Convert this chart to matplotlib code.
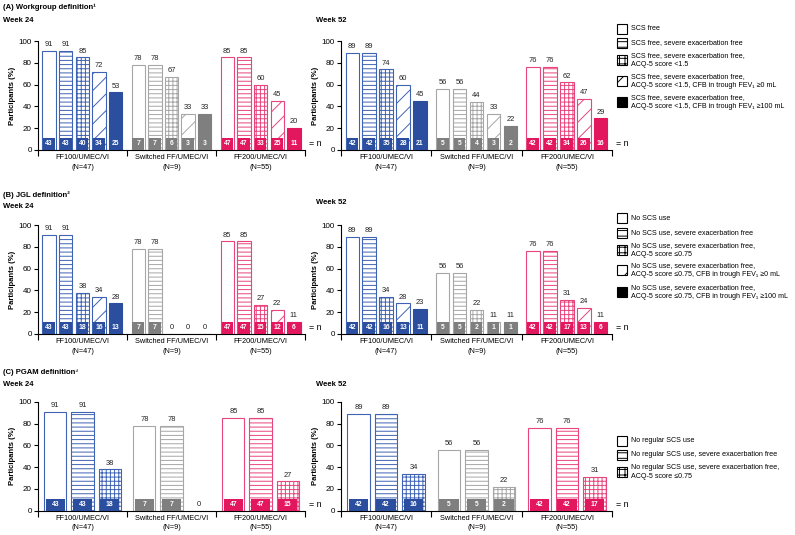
import matplotlib.pyplot as plt
import matplotlib.transforms as mtransforms
from matplotlib.patches import Rectangle

plt.rcParams['font.family'] = ['Liberation Sans', 'DejaVu Sans']
plt.rcParams['hatch.linewidth'] = 0.7

groups = ['FF100/UMEC/VI\n(N=47)', 'Switched FF/UMEC/VI\n(N=9)', 'FF200/UMEC/VI\n(N=55)']
fill_colors = ['#2b4e9e', '#7f7f7f', '#e2175e']
edge_colors = ['#3f63b4', '#a6a6a6', '#e8457d']
hatches5 = ['', '----', '++++', '//', 'solid']
hatches3 = ['', '----', '++++']

# (A) Workgroup definition
wg_w24_pct = [[91, 91, 85, 72, 53], [78, 78, 67, 33, 33], [85, 85, 60, 45, 20]]
wg_w24_n = [[43, 43, 40, 34, 25], [7, 7, 6, 3, 3], [47, 47, 33, 25, 11]]
wg_w52_pct = [[89, 89, 74, 60, 45], [56, 56, 44, 33, 22], [76, 76, 62, 47, 29]]
wg_w52_n = [[42, 42, 35, 28, 21], [5, 5, 4, 3, 2], [42, 42, 34, 26, 16]]
wg_legend = ['SCS free',
             'SCS free, severe exacerbation free',
             'SCS free, severe exacerbation free,\nACQ-5 score <1.5',
             'SCS free, severe exacerbation free,\nACQ-5 score <1.5, CFB in trough FEV\u2081 \u22650 mL',
             'SCS free, severe exacerbation free,\nACQ-5 score <1.5, CFB in trough FEV\u2081 \u2265100 mL']

# (B) JGL definition
jgl_w24_pct = [[91, 91, 38, 34, 28], [78, 78, 0, 0, 0], [85, 85, 27, 22, 11]]
jgl_w24_n = [[43, 43, 18, 16, 13], [7, 7, 0, 0, 0], [47, 47, 15, 12, 6]]
jgl_w52_pct = [[89, 89, 34, 28, 23], [56, 56, 22, 11, 11], [76, 76, 31, 24, 11]]
jgl_w52_n = [[42, 42, 16, 13, 11], [5, 5, 2, 1, 1], [42, 42, 17, 13, 6]]
jgl_legend = ['No SCS use',
              'No SCS use, severe exacerbation free',
              'No SCS use, severe exacerbation free,\nACQ-5 score \u22640.75',
              'No SCS use, severe exacerbation free,\nACQ-5 score \u22640.75, CFB in trough FEV\u2081 \u22650 mL',
              'No SCS use, severe exacerbation free,\nACQ-5 score \u22640.75, CFB in trough FEV\u2081 \u2265100 mL']

# (C) PGAM definition
pgam_w24_pct = [[91, 91, 38], [78, 78, 0], [85, 85, 27]]
pgam_w24_n = [[43, 43, 18], [7, 7, 0], [47, 47, 15]]
pgam_w52_pct = [[89, 89, 34], [56, 56, 22], [76, 76, 31]]
pgam_w52_n = [[42, 42, 16], [5, 5, 2], [42, 42, 17]]
pgam_legend = ['No regular SCS use',
               'No regular SCS use, severe exacerbation free',
               'No regular SCS use, severe exacerbation free,\nACQ-5 score \u22640.75']

W, H = 795, 535
fig = plt.figure(figsize=(W / 100, H / 100), dpi=100)

group_start = [0, 5.35, 10.7]
xmin, xmax = -0.67, 15.37


def draw_panel(ax, pct, n, hatches, pitch, width, offset):
    for g in range(3):
        for j in range(len(pct[g])):
            v = pct[g][j]
            k = n[g][j]
            x = group_start[g] + offset + j * pitch
            h = hatches[j]
            if h == 'solid':
                ax.bar(x, v, width, color=fill_colors[g], edgecolor=fill_colors[g], lw=0.8, zorder=2)
            else:
                ax.bar(x, v, width, facecolor='white', edgecolor=edge_colors[g], hatch=h, lw=0.8, zorder=2)
            ax.text(x, v + 2.5, str(v), ha='center', va='bottom', fontsize=5.4, color='#222222')
            if v > 0:
                ax.bar(x, 11, width * 0.86, color=fill_colors[g], lw=0, zorder=3)
                ax.text(x, 5.6, str(k), ha='center', va='center', color='white',
                        fontsize=4.9, fontweight='bold', zorder=4)
    ax.set_xlim(xmin, xmax)
    ax.set_ylim(0, 100)
    ax.spines['top'].set_visible(False)
    ax.spines['right'].set_visible(False)
    ax.spines['left'].set_linewidth(0.8)
    ax.spines['bottom'].set_linewidth(0.8)
    ax.set_yticks([0, 20, 40, 60, 80, 100])
    ax.tick_params(axis='y', labelsize=5.8, length=3, width=0.8, pad=1.5)
    ax.set_xticks([2, 7.35, 12.7])
    ax.set_xticklabels(groups, fontsize=5.3, linespacing=1.5)
    ax.tick_params(axis='x', which='major', length=0, pad=3)
    ax.set_xticks([xmin, 4.67, 10.02, xmax], minor=True)
    ax.tick_params(axis='x', which='minor', length=4, width=0.8)
    ax.set_ylabel('Participants (%)', fontsize=5.5, fontweight='bold', labelpad=2)
    trans = mtransforms.blended_transform_factory(ax.transAxes, ax.transData)
    ax.text(1.015, 5.6, '= n', transform=trans, va='center', ha='left', fontsize=6.4)


def draw_legend(labels, hatches, centers):
    for lab, h, cy in zip(labels, hatches, centers):
        x0 = 617 / W
        y0 = 1 - (cy + 5) / H
        if h == 'solid':
            r = Rectangle((x0, y0), 10 / W, 10 / H, transform=fig.transFigure,
                          facecolor='black', edgecolor='black', lw=0.8)
        else:
            r = Rectangle((x0, y0), 10 / W, 10 / H, transform=fig.transFigure,
                          facecolor='white', edgecolor='black',
                          hatch=h.replace('----', '---').replace('++++', '+++').replace('//', '/'), lw=0.8)
        fig.add_artist(r)
        fig.text(631 / W, 1 - cy / H, lab, fontsize=5.15, va='center', ha='left', linespacing=1.25)


rows = [
    ('(A) Workgroup definition\u00b9', 7, 21, 21, 150, wg_w24_pct, wg_w24_n, wg_w52_pct, wg_w52_n, hatches5,
     wg_legend, [29, 43, 60, 81, 102]),
    ('(B) JGL definition\u00b2', 195, 207, 203, 334, jgl_w24_pct, jgl_w24_n, jgl_w52_pct, jgl_w52_n, hatches5,
     jgl_legend, [218, 233, 250, 270, 292]),
    ('(C) PGAM definition\u00b3', 372, 384, 384, 510.7, pgam_w24_pct, pgam_w24_n, pgam_w52_pct, pgam_w52_n, hatches3,
     pgam_legend, [441, 455, 472]),
]

for title, ty, wy24, wy52, y0px, p24, n24, p52, n52, hatches, legend_labels, legend_y in rows:
    fig.text(3 / W, 1 - ty / H, title, fontsize=5.5, fontweight='bold', va='center', ha='left')
    fig.text(3 / W, 1 - wy24 / H, 'Week 24', fontsize=5.5, fontweight='bold', va='center', ha='left')
    fig.text(316 / W, 1 - wy52 / H, 'Week 52', fontsize=5.5, fontweight='bold', va='center', ha='left')
    bottom = 1 - y0px / H
    height = 109 / H
    ax1 = fig.add_axes([38 / W, bottom, (305 - 38) / W, height])
    ax2 = fig.add_axes([341 / W, bottom, (612 - 341) / W, height])
    if len(hatches) == 5:
        draw_panel(ax1, p24, n24, hatches, 1.0, 0.8, 0.0)
        draw_panel(ax2, p52, n52, hatches, 1.0, 0.8, 0.0)
    else:
        draw_panel(ax1, p24, n24, hatches, 1.63, 1.33, 0.37)
        draw_panel(ax2, p52, n52, hatches, 1.63, 1.33, 0.37)
    draw_legend(legend_labels, hatches, legend_y)

fig.savefig('out.png', dpi=100)
